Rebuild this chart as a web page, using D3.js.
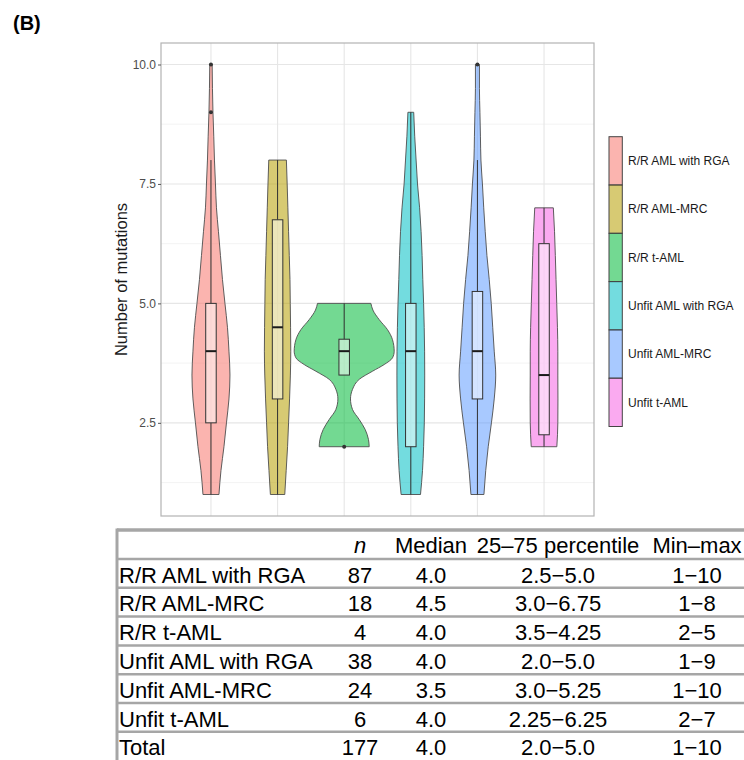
<!DOCTYPE html>
<html>
<head>
<meta charset="utf-8">
<script src="https://cdn.jsdelivr.net/npm/d3@7"></script>
<style>
  body { margin: 0; background: #fff; }
  svg { display: block; font-family: "Liberation Sans", Arial, sans-serif; }
</style>
</head>
<body>
<div id="chart"></div>
<script>
const groups = ["R/R AML with RGA", "R/R AML-MRC", "R/R t-AML", "Unfit AML with RGA", "Unfit AML-MRC", "Unfit t-AML"];
const colors = ["#F8766D", "#B79F00", "#00BA38", "#00BFC4", "#619CFF", "#F564E3"];

const yTicks = [2.5, 5.0, 7.5, 10.0];
const yMinor = [1.25, 3.75, 6.25, 8.75];

// violin outlines: [value, relative density]
const violinDensity = [
    [[1, .16], [1.5, .2], [2, .26], [2.5, .31], [3, .36], [3.5, .38], [4, .36], [4.5, .33], [5, .28], [5.5, .23], [6, .19], [6.5, .15], [7, .11], [7.5, .09], [8, .07], [8.5, .056], [9, .04], [9.5, .03], [10, .024]],
    [[1, .144], [1.5, .172], [2, .2], [2.5, .22], [3, .24], [3.5, .256], [4, .264], [4.5, .26], [5, .254], [5.5, .248], [6, .234], [6.5, .22], [7, .206], [7.5, .192], [8, .176]],
    [[2, .5], [2.15, .486], [2.36, .42], [2.57, .3], [2.78, .166], [3, .126], [3.2, .166], [3.41, .3], [3.58, .566], [3.72, .8], [3.86, .966], [4, 1], [4.24, .966], [4.45, .866], [4.66, .7], [4.86, .574], [5, .534]],
    [[1, .194], [1.5, .234], [2, .256], [2.5, .27], [3, .276], [3.5, .278], [4, .276], [4.5, .268], [5, .256], [5.5, .24], [6, .226], [6.5, .206], [7, .176], [7.5, .134], [8, .106], [8.5, .078], [9, .058]],
    [[1, .13], [1.5, .166], [2, .216], [2.5, .28], [3, .336], [3.5, .366], [4, .336], [4.5, .306], [5, .276], [5.5, .236], [6, .19], [6.5, .156], [7, .126], [7.5, .1], [8, .07], [8.5, .06], [9, .05], [9.5, .04], [10, .04]],
    [[2, .256], [2.5, .276], [3, .278], [3.5, .276], [4, .276], [4.5, .268], [5, .254], [5.5, .24], [6, .226], [6.5, .21], [7, .186]]
];

const boxLower = [1, 1, 3.5, 1, 1, 2];
const boxQ1 = [2.5, 3, 3.5, 2, 3, 2.25];
const boxMedian = [4, 4.5, 4, 4, 4, 3.5];
const boxQ3 = [5, 6.75, 4.25, 5, 5.25, 6.25];
const boxUpper = [8, 8, 5, 9, 8, 7];
const outliers = [[9, 10], [], [2], [], [10], []];

const tableHeaders = ["", "n", "Median", "25–75 percentile", "Min–max"];
const tableRows = ["R/R AML with RGA", "R/R AML-MRC", "R/R t-AML", "Unfit AML with RGA", "Unfit AML-MRC", "Unfit t-AML", "Total"];
const tableN = ["87", "18", "4", "38", "24", "6", "177"];
const tableMedian = ["4.0", "4.5", "4.0", "4.0", "3.5", "4.0", "4.0"];
const tableIQR = ["2.5−5.0", "3.0−6.75", "3.5−4.25", "2.0−5.0", "3.0−5.25", "2.25−6.25", "2.0−5.0"];
const tableRange = ["1−10", "1−8", "2−5", "1−9", "1−10", "2−7", "1−10"];

const W = 744, H = 760;
const panel = { left: 161, right: 594, top: 43, bottom: 516 };

const svg = d3.select("#chart").append("svg")
    .attr("width", W)
    .attr("height", H);

svg.append("rect").attr("width", W).attr("height", H).attr("fill", "#fff");

svg.append("text")
    .attr("x", 13)
    .attr("y", 30)
    .attr("font-size", 20)
    .attr("font-weight", "bold")
    .text("(B)");

const x = d3.scalePoint()
    .domain(groups)
    .range([panel.left, panel.right])
    .padding(0.75);

const y = d3.scaleLinear()
    .domain([0.55, 10.45])
    .range([panel.bottom, panel.top]);

const halfWidth = d3.scaleLinear().domain([0, 1]).range([0, 50]);

// grid
const grid = svg.append("g");
grid.selectAll(".minor")
    .data(yMinor)
    .enter()
    .append("line")
    .attr("x1", panel.left).attr("x2", panel.right)
    .attr("y1", d => y(d)).attr("y2", d => y(d))
    .attr("stroke", "#f0f0f0")
    .attr("stroke-width", 0.8);
grid.selectAll(".major")
    .data(yTicks)
    .enter()
    .append("line")
    .attr("x1", panel.left).attr("x2", panel.right)
    .attr("y1", d => y(d)).attr("y2", d => y(d))
    .attr("stroke", "#e6e6e6")
    .attr("stroke-width", 1.1);
grid.selectAll(".vert")
    .data(groups)
    .enter()
    .append("line")
    .attr("x1", d => x(d)).attr("x2", d => x(d))
    .attr("y1", panel.top).attr("y2", panel.bottom)
    .attr("stroke", "#e6e6e6")
    .attr("stroke-width", 1.1);

// violins
const violinArea = (i) => d3.area()
    .y(d => y(d[0]))
    .x0(d => x(groups[i]) - halfWidth(d[1]))
    .x1(d => x(groups[i]) + halfWidth(d[1]))
    .curve(d3.curveMonotoneY);

svg.append("g")
    .selectAll("path")
    .data(violinDensity)
    .enter()
    .append("path")
    .attr("d", (d, i) => violinArea(i)(d))
    .attr("fill", (d, i) => colors[i])
    .attr("fill-opacity", 0.55)
    .attr("stroke", "#4d4d4d")
    .attr("stroke-width", 0.9);

// boxplots
const boxW = 10.5;
const boxes = svg.append("g")
    .selectAll("g")
    .data(groups)
    .enter()
    .append("g");

boxes.append("line")
    .attr("x1", d => x(d)).attr("x2", d => x(d))
    .attr("y1", (d, i) => y(boxQ3[i])).attr("y2", (d, i) => y(boxUpper[i]))
    .attr("stroke", "#333").attr("stroke-width", 1);
boxes.append("line")
    .attr("x1", d => x(d)).attr("x2", d => x(d))
    .attr("y1", (d, i) => y(boxQ1[i])).attr("y2", (d, i) => y(boxLower[i]))
    .attr("stroke", "#333").attr("stroke-width", 1);
boxes.append("rect")
    .attr("x", d => x(d) - boxW / 2)
    .attr("width", boxW)
    .attr("y", (d, i) => y(boxQ3[i]))
    .attr("height", (d, i) => y(boxQ1[i]) - y(boxQ3[i]))
    .attr("fill", "#fff")
    .attr("fill-opacity", 0.5)
    .attr("stroke", "#333")
    .attr("stroke-width", 1);
boxes.append("line")
    .attr("x1", d => x(d) - boxW / 2).attr("x2", d => x(d) + boxW / 2)
    .attr("y1", (d, i) => y(boxMedian[i])).attr("y2", (d, i) => y(boxMedian[i]))
    .attr("stroke", "#1a1a1a").attr("stroke-width", 2);
boxes.selectAll("circle")
    .data((d, i) => outliers[i].map(v => ({ g: d, v })))
    .enter()
    .append("circle")
    .attr("cx", d => x(d.g))
    .attr("cy", d => y(d.v))
    .attr("r", 2)
    .attr("fill", "#333");

// panel border
svg.append("rect")
    .attr("x", panel.left).attr("y", panel.top)
    .attr("width", panel.right - panel.left)
    .attr("height", panel.bottom - panel.top)
    .attr("fill", "none")
    .attr("stroke", "#b3b3b3")
    .attr("stroke-width", 1.2);

// y axis
const yAxis = svg.append("g")
    .attr("transform", `translate(${panel.left},0)`)
    .call(d3.axisLeft(y).tickValues(yTicks).tickFormat(d3.format(".1f")).tickSize(3).tickPadding(2));
yAxis.select(".domain").remove();
yAxis.selectAll(".tick line").attr("stroke", "#555");
yAxis.selectAll(".tick text")
    .attr("font-size", 12)
    .attr("font-family", "Liberation Sans, Arial, sans-serif")
    .attr("fill", "#4d4d4d");

svg.append("text")
    .attr("transform", `translate(127,${(panel.top + panel.bottom) / 2}) rotate(-90)`)
    .attr("text-anchor", "middle")
    .attr("font-size", 16.5)
    .attr("fill", "#1a1a1a")
    .text("Number of mutations");

// legend
const keyH = 48.3;
const legend = svg.append("g")
    .attr("transform", "translate(609,136.7)");
legend.selectAll("rect")
    .data(groups)
    .enter()
    .append("rect")
    .attr("x", 0)
    .attr("y", (d, i) => i * keyH)
    .attr("width", 13.3)
    .attr("height", keyH)
    .attr("fill", (d, i) => colors[i])
    .attr("fill-opacity", 0.55)
    .attr("stroke", "#444")
    .attr("stroke-width", 1);
legend.selectAll("text")
    .data(groups)
    .enter()
    .append("text")
    .attr("x", 19)
    .attr("y", (d, i) => i * keyH + keyH / 2)
    .attr("dy", "0.35em")
    .attr("font-size", 12)
    .attr("fill", "#1a1a1a")
    .text(d => d);

// summary table
const table = svg.append("g");
const colCenter = [null, 360, 431, 558, 697];
const headTop = 530, rowTop = 559, rowH = 28.8;
const tableLeft = 117;

table.append("line")
    .attr("x1", tableLeft).attr("x2", W)
    .attr("y1", headTop).attr("y2", headTop)
    .attr("stroke", "#a6a6a6").attr("stroke-width", 3.5);
table.selectAll(".sep")
    .data(tableRows.map((d, i) => i))
    .enter()
    .append("line")
    .attr("x1", tableLeft).attr("x2", W)
    .attr("y1", i => rowTop + i * rowH).attr("y2", i => rowTop + i * rowH)
    .attr("stroke", "#a6a6a6").attr("stroke-width", 2.5);
table.append("line")
    .attr("x1", tableLeft).attr("x2", tableLeft)
    .attr("y1", headTop - 1.5).attr("y2", H)
    .attr("stroke", "#a6a6a6").attr("stroke-width", 3);

table.selectAll(".head")
    .data(tableHeaders.slice(1))
    .enter()
    .append("text")
    .attr("x", (d, i) => colCenter[i + 1])
    .attr("y", headTop + 23)
    .attr("text-anchor", "middle")
    .attr("font-size", 22)
    .attr("font-style", d => d === "n" ? "italic" : "normal")
    .text(d => d);

const cols = [tableRows, tableN, tableMedian, tableIQR, tableRange];
cols.forEach((col, c) => {
    table.selectAll(".c" + c)
        .data(col)
        .enter()
        .append("text")
        .attr("x", c === 0 ? 119 : colCenter[c])
        .attr("y", (d, i) => rowTop + i * rowH + 23.5)
        .attr("text-anchor", c === 0 ? "start" : "middle")
        .attr("font-size", 22)
        .text(d => d);
});
</script>
</body>
</html>
